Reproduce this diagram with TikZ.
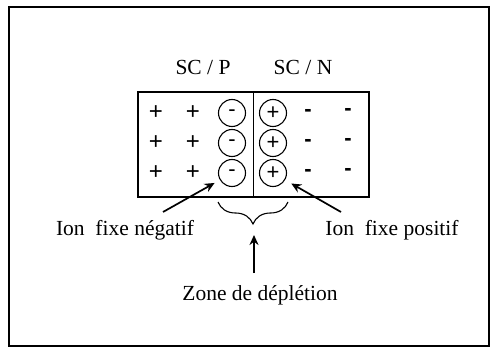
\documentclass[tikz,border=0pt]{standalone}
\usepackage{fontspec}
\setmainfont{Liberation Serif}
\newfontfamily\signfont{Liberation Sans}
\usepackage{tikz}
\usetikzlibrary{arrows.meta, positioning, decorations.pathreplacing}

\begin{document}
\begin{tikzpicture}[
  x=1pt, y=1pt,
  every node/.style={font=\fontsize{21.5}{25}\selectfont},
  sign/.style={font=\signfont\fontsize{24}{28}\selectfont, inner sep=0pt},
  bar/.style={font=\signfont\bfseries\fontsize{22}{26}\selectfont, inner sep=0pt},
  ion/.style={circle, draw, line width=1.1pt, minimum size=27pt, inner sep=0pt, font=\signfont\fontsize{22}{24}\selectfont},
  pointer/.style={-{Stealth[length=10pt,width=9pt]}, line width=1.7pt},
]
  \useasboundingbox (0,0) rectangle (493,349);
  \draw[line width=1.9pt] (9,3) rectangle (489,342);

  \node[draw, line width=1.5pt, minimum width=231pt, minimum height=105pt, inner sep=0pt] (jonction) at (253.5,204.5) {};
  \draw[line width=1.5pt] (jonction.north) -- (jonction.south);

  \node (scp) at (203,282) {SC / P};
  \node (scn) at (303,282) {SC / N};

  \foreach \y/\r in {236/1, 206/2, 176/3} {
    \node[sign] (pa\r) at (156,\y) {+};
    \node[sign] (pb\r) at (193,\y) {+};
    \node[ion] (m\r) at (232,\y) {-};
    \node[ion] (p\r) at (273,\y) {+};
    \node[bar] (na\r) at (308,\y) {-};
    \node[bar] (nb\r) at (348,\y+1) {-};
  }

  \node (negatif) at (125,119) {Ion\ \ fixe négatif};
  \node (positif) at (392,119) {Ion\ \ fixe positif};
  \node (zone) at (260,54) {Zone de déplétion};

  \coordinate (dl) at (163,137);
  \coordinate (dr) at (341,137);
  \draw[pointer, shorten >=6pt] (dl) -- (m3.210);
  \draw[pointer, shorten >=7pt] (dr) -- (p3.-30);

  % zone de deplétion
  \coordinate (bl) at (218,147);
  \coordinate (br) at (288,147);
  \coordinate (pointe) at (254,114);
  \coordinate (bas) at (254,76);
  \draw[decorate, decoration={brace, mirror, amplitude=22pt}, line width=1.1pt] (bl) -- (br);
  \draw[pointer] (bas) -- (pointe);
\end{tikzpicture}
\end{document}
